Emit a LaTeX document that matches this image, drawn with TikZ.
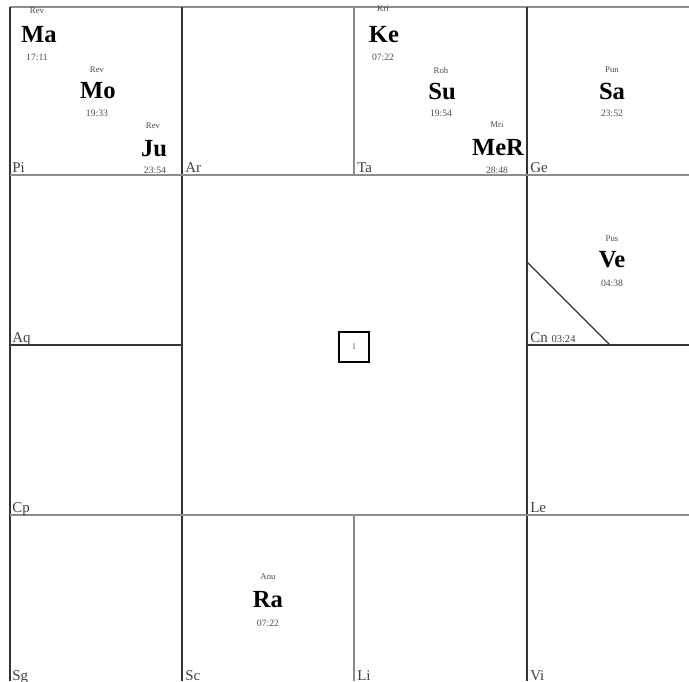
\documentclass[tikz,border=0pt]{standalone}
\usepackage{fontspec}
\setmainfont{Liberation Serif}
\tikzset{
  grid/.style={draw=black!80, line width=1.1pt},
  thin grid/.style={draw=black!45, line width=0.9pt},
  nak/.style={font=\fontsize{5}{5}\selectfont, text=black!70, inner sep=0pt},
  planet/.style={font=\fontsize{14}{14}\selectfont\bfseries, inner sep=0pt},
  deg/.style={font=\fontsize{5.5}{5.5}\selectfont, text=black!70, inner sep=0pt},
  sign/.style={font=\fontsize{8.5}{8.5}\selectfont, text=black!75, inner sep=0pt, anchor=base west}
}
\begin{document}
\begin{tikzpicture}[x=0.02cm, y=-0.02cm]
\useasboundingbox[fill=white] (0,0) rectangle (689,681);

% grid
\draw[thin grid] (10,7) -- (689,7);
\draw[grid] (10,7) -- (10,681);
\draw[grid] (182,7) -- (182,681);
\draw[grid] (527,7) -- (527,681);
\draw[thin grid] (354,7) -- (354,175);
\draw[thin grid] (354,515) -- (354,681);
\draw[thin grid] (10,175) -- (689,175);
\draw[thin grid] (10,515) -- (689,515);
\draw[grid] (10,345) -- (182,345);
\draw[grid] (527,345) -- (689,345);
\draw[grid, line width=0.8pt] (527,262) -- (610,345);

\node[draw, line width=0.8pt, minimum size=0.6cm, font=\fontsize{5}{5}\selectfont, text=black!60] (lagna) at (354,347) {1};

% Pi
\node[nak] (ma-nak) at (37,11) {Rev};
\node[planet] (ma) at (39,35) {Ma};
\node[deg] (ma-deg) at (37,57) {17:11};
\node[nak] (mo-nak) at (97,70) {Rev};
\node[planet] (mo) at (98,91) {Mo};
\node[deg] (mo-deg) at (97,113) {19:33};
\node[nak] (ju-nak) at (153,126) {Rev};
\node[planet] (ju) at (154,149) {Ju};
\node[deg] (ju-deg) at (155,170) {23:54};

% Ta
\node[nak] (ke-nak) at (383,9) {Kri};
\node[planet] (ke) at (384,35) {Ke};
\node[deg] (ke-deg) at (383,57) {07:22};
\node[nak] (su-nak) at (441,70) {Roh};
\node[planet] (su) at (442,91) {Su};
\node[deg] (su-deg) at (441,113) {19:54};
\node[nak] (me-nak) at (497,125) {Mri};
\node[planet] (me) at (498,148) {MeR};
\node[deg] (me-deg) at (497,170) {28:48};

% Ge
\node[nak] (sa-nak) at (612,70) {Pun};
\node[planet] (sa) at (612,91) {Sa};
\node[deg] (sa-deg) at (612,113) {23:52};

% Cn
\node[nak] (ve-nak) at (612,239) {Pus};
\node[planet] (ve) at (612,260) {Ve};
\node[deg] (ve-deg) at (612,283) {04:38};

% Sc
\node[nak] (ra-nak) at (268,577) {Anu};
\node[planet] (ra) at (268,600) {Ra};
\node[deg] (ra-deg) at (268,623) {07:22};

% signs
\node[sign] (pi) at (12,172) {Pi};
\node[sign] (ar) at (185,172) {Ar};
\node[sign] (ta) at (357,172) {Ta};
\node[sign] (ge) at (530,172) {Ge};
\node[sign] (aq) at (12,342) {Aq};
\node[sign] (cn) at (530,342) {Cn {\fontsize{6}{6}\selectfont 03:24}};
\node[sign] (cp) at (12,512) {Cp};
\node[sign] (le) at (530,512) {Le};
\node[sign] (sg) at (12,680) {Sg};
\node[sign] (sc) at (185,680) {Sc};
\node[sign] (li) at (357,680) {Li};
\node[sign] (vi) at (530,680) {Vi};
\end{tikzpicture}
\end{document}
